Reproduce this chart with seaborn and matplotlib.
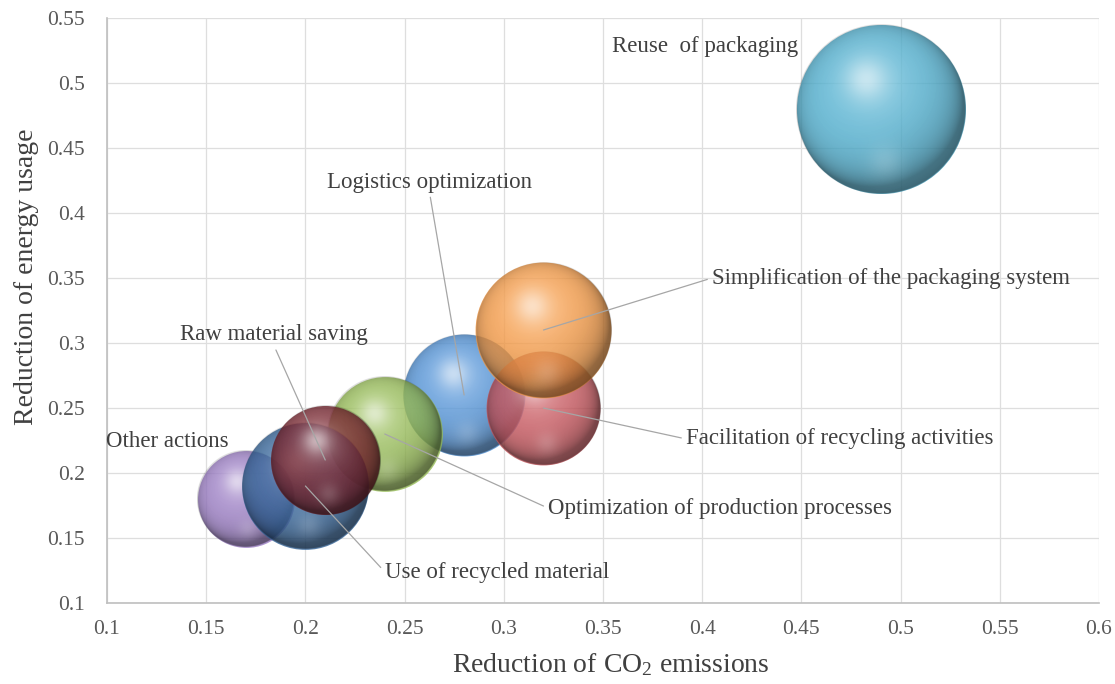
import numpy as np
import pandas as pd
import matplotlib
matplotlib.use("Agg")
import matplotlib.pyplot as plt
import seaborn as sns

# ---- data (drawing order: back to front) ----
actions = [
    "Logistics optimization",
    "Facilitation of recycling activities",
    "Simplification of the packaging system",
    "Optimization of production processes",
    "Other actions",
    "Use of recycled material",
    "Raw material saving",
    "Reuse  of packaging",
]
co2_reduction = [0.28, 0.32, 0.32, 0.24, 0.17, 0.20, 0.21, 0.49]
energy_reduction = [0.26, 0.25, 0.31, 0.23, 0.18, 0.19, 0.21, 0.48]
bubble_size = [14.9, 13.0, 18.5, 13.2, 9.4, 16.1, 11.9, 28.6]
bubble_colors = ["#5193d8", "#c8555c", "#f59a45", "#96bc55",
                 "#9a7cc4", "#33649a", "#7a2630", "#4fb0d0"]

x_ticks = [0.1, 0.15, 0.2, 0.25, 0.3, 0.35, 0.4, 0.45, 0.5, 0.55, 0.6]
y_ticks = [0.1, 0.15, 0.2, 0.25, 0.3, 0.35, 0.4, 0.45, 0.5, 0.55]

# label placement (text anchor in data units, and where the leader leaves the text)
label_pos = {
    "Logistics optimization": ((0.2109, 0.4238), (0.5, 0.0), True),
    "Facilitation of recycling activities": ((0.3918, 0.2262), (0.0, 0.5), True),
    "Simplification of the packaging system": ((0.4049, 0.3500), (0.0, 0.5), True),
    "Optimization of production processes": ((0.3223, 0.1730), (0.0, 0.5), True),
    "Other actions": ((0.0995, 0.2246), (1.0, 0.5), False),
    "Use of recycled material": ((0.2401, 0.1238), (0.0, 0.5), True),
    "Raw material saving": ((0.1368, 0.3062), (0.5, 0.0), True),
    "Reuse  of packaging": ((0.3545, 0.5277), (1.0, 0.5), False),
}

df = pd.DataFrame({
    "action": actions,
    "co2": co2_reduction,
    "energy": energy_reduction,
    "size": bubble_size,
    "color": bubble_colors,
})

sns.set_theme(style="white")
plt.rcParams["font.family"] = ["Liberation Serif", "DejaVu Serif"]
plt.rcParams["mathtext.fontset"] = "custom"
plt.rcParams["mathtext.rm"] = "Liberation Serif"
plt.rcParams["mathtext.it"] = "Liberation Serif:italic"

DPI = 100
fig = plt.figure(figsize=(11.15, 6.84), dpi=DPI)
ax_left, ax_bottom = 107 / 1115, 1 - 603 / 684
ax_w, ax_h = (1099 - 107) / 1115, (603 - 18) / 684
ax = fig.add_axes([ax_left, ax_bottom, ax_w, ax_h])

XMIN, XMAX, YMIN, YMAX = 0.1, 0.6, 0.1, 0.55
ax.set_xlim(XMIN, XMAX)
ax.set_ylim(YMIN, YMAX)
ax.set_autoscale_on(False)

px_per_x = ax_w * 11.15 * DPI / (XMAX - XMIN)
px_per_y = ax_h * 6.84 * DPI / (YMAX - YMIN)

AREA_SCALE = 517.7      # points^2 per unit of bubble size
BUBBLE_ALPHA = 0.80


def sphere_overlays(n=321):
    """Shadow and highlight layers for a lit sphere on a unit disk."""
    t = np.linspace(-1, 1, n)
    u, v = np.meshgrid(t, -t)
    r2 = u ** 2 + v ** 2
    r = np.sqrt(r2)
    z = np.sqrt(np.clip(1 - r2, 0, 1))
    light = np.array([-0.25, 0.40, 0.88])
    light /= np.linalg.norm(light)
    diffuse = np.clip(u * light[0] + v * light[1] + z * light[2], 0, 1)
    edge = np.clip((1.002 - r) * n / 2.0, 0, 1)

    shadow = np.zeros((n, n, 4))
    shadow[..., 3] = (0.36 * (1 - diffuse) ** 2.0 + 0.10 * r2 ** 4) * edge

    glow = (0.42 * np.exp(-((u + 0.18) ** 2 + (v - 0.36) ** 2) / 0.06)
            + 0.20 * np.exp(-((u + 0.10) ** 2 + (v - 0.28) ** 2) / 0.22)
            + 0.16 * np.exp(-((u - 0.05) ** 2 + (v + 0.62) ** 2) / 0.04))
    shine = np.ones((n, n, 4))
    shine[..., 3] = np.clip(glow, 0, 1) * edge
    return shadow, shine


shadow_img, shine_img = sphere_overlays()

for i, row in df.iterrows():
    area = row["size"] * AREA_SCALE
    z0 = 3 + 3 * i
    sns.scatterplot(data=df.iloc[[i]], x="co2", y="energy", s=area,
                    color=row["color"], alpha=BUBBLE_ALPHA, linewidth=0,
                    legend=False, ax=ax, zorder=z0)
    r_px = np.sqrt(area) / 2 * DPI / 72
    rx, ry = r_px / px_per_x, r_px / px_per_y
    ext = (row["co2"] - rx, row["co2"] + rx, row["energy"] - ry, row["energy"] + ry)
    ax.imshow(shadow_img, extent=ext, aspect="auto", interpolation="bilinear",
              zorder=z0 + 1)
    ax.imshow(shine_img, extent=ext, aspect="auto", interpolation="bilinear",
              zorder=z0 + 2)

ax.set_xlim(XMIN, XMAX)
ax.set_ylim(YMIN, YMAX)
ax.set_aspect("auto")

# ---- labels with leader lines ----
TEXT_COLOR = "#404040"
for _, row in df.iterrows():
    (tx, ty), rel, leader = label_pos[row["action"]]
    arrow = None
    if leader:
        arrow = dict(arrowstyle="-", color="#a6a6a6", lw=0.9,
                     shrinkA=1, shrinkB=0, relpos=rel)
    ax.annotate(row["action"], xy=(row["co2"], row["energy"]), xytext=(tx, ty),
                textcoords="data", ha="left", va="center", fontsize=16.5,
                color=TEXT_COLOR, arrowprops=arrow, zorder=40,
                annotation_clip=False)

# ---- axes styling ----
ax.set_xticks(x_ticks)
ax.set_yticks(y_ticks)
ax.set_xticklabels([f"{t:g}" for t in x_ticks])
ax.set_yticklabels([f"{t:g}" for t in y_ticks])
ax.grid(True, color="#dedede", lw=0.9, zorder=0)
ax.set_axisbelow(True)
for side in ("top", "right"):
    ax.spines[side].set_visible(False)
for side in ("left", "bottom"):
    ax.spines[side].set_color("#bfbfbf")
    ax.spines[side].set_linewidth(1.2)
ax.tick_params(axis="both", length=0, labelsize=15.5, labelcolor="#595959")
ax.tick_params(axis="x", pad=12)
ax.tick_params(axis="y", pad=16)

ax.set_xlabel(r"Reduction of CO$_{\mathrm{2}}$ emissions", fontsize=20,
              color=TEXT_COLOR)
ax.set_ylabel("Reduction of energy usage", fontsize=20, color=TEXT_COLOR)
ax.xaxis.set_label_coords(0.508, -0.083)
ax.yaxis.set_label_coords(-0.069, 0.557)

fig.savefig("out.png", dpi=DPI, facecolor="white")
